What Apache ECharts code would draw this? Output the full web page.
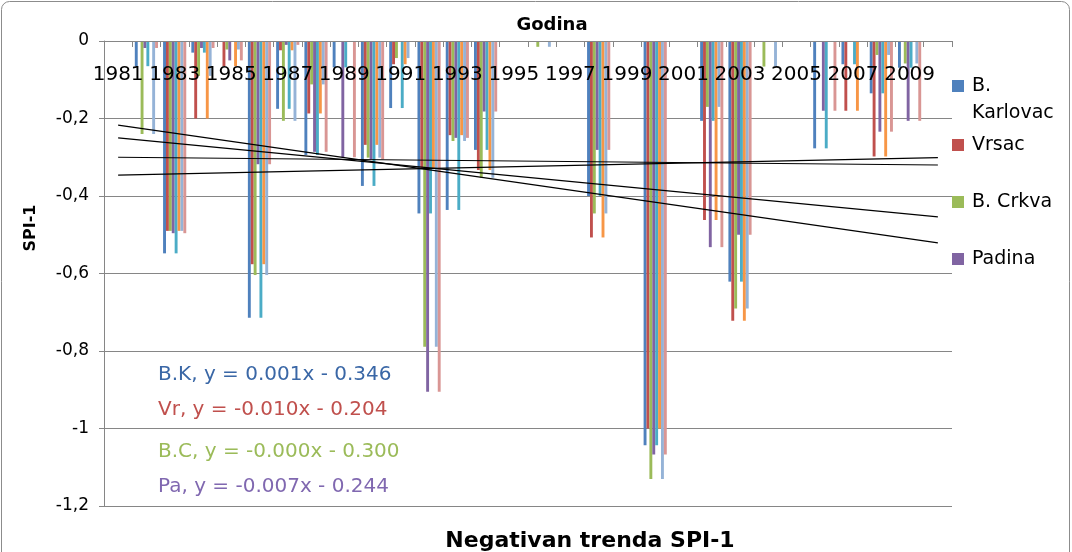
<!DOCTYPE html>
<html lang="sr">
<head>
    <meta charset="UTF-8">
    <title>Negativan trenda SPI-1</title>
    <script type="text/javascript" src="https://cdn.jsdelivr.net/npm/echarts@6/dist/echarts.min.js"></script>
    <style>
        html, body { margin: 0; padding: 0; background: #fff; }
        #chart { width: 1072px; height: 552px; }
    </style>
</head>
<body>
    <div id="chart"></div>
    <script>
        // godine (kategorije)
        var years = ['1981','1982','1983','1984','1985','1986','1987','1988','1989','1990',
                     '1991','1992','1993','1994','1995','1996','1997','1998','1999','2000',
                     '2001','2002','2003','2004','2005','2006','2007','2008','2009','2010'];
        // SPI-1 vrijednosti po stanici (samo negativne)
        var bKarlovac = [0,-0.065,-0.548,-0.03,0,-0.714,-0.175,-0.294,-0.068,-0.374,
                         -0.173,-0.445,-0.436,-0.281,0,0,0,-0.40,0,-1.043,
                         0,-0.206,-0.621,0,0,-0.277,-0.06,-0.135,-0.069,0];
        var vrsac     = [0,0,-0.49,-0.2,-0.065,-0.576,-0.024,-0.187,0,-0.268,
                         -0.06,-0.33,-0.243,-0.333,0,0,0,-0.507,0,-1.0,
                         0,-0.462,-0.722,0,0,0,-0.18,-0.298,0,0];
        var bCrkva    = [0,-0.24,-0.49,-0.09,-0.022,-0.604,-0.206,-0.112,0,-0.301,
                         -0.044,-0.789,-0.258,-0.353,0,-0.015,0,-0.445,0,-1.13,
                         0,-0.17,-0.69,-0.066,0,0,0,-0.036,-0.058,0];
        var padina    = [0,-0.018,-0.496,-0.018,-0.05,-0.318,-0.01,-0.286,-0.30,-0.305,
                         0,-0.905,-0.25,-0.182,0,0,0,-0.281,0,-1.067,
                         0,-0.532,-0.50,0,0,-0.18,0,-0.234,-0.206,0];
        // linije trenda: vrijednost na pocetku (1981) i kraju (2010)
        var trendStart = [-0.346, -0.217, -0.300, -0.250];
        var trendEnd   = [-0.301, -0.521, -0.320, -0.454];
        var equations = ['B.K, y = 0.001x - 0.346', 'Vr, y = -0.010x - 0.204',
                         'B.C, y = -0.000x - 0.300', 'Pa, y = -0.007x - 0.244'];

        var names = ['B. Karlovac', 'Vrsac', 'B. Crkva', 'Padina'];
        var colors = ['#4F81BD', '#C0504D', '#9BBB59', '#8064A2', '#4BACC6', '#F79646', '#95B3D7', '#D99694'];
        var eqColors = ['#3A67A6', '#C0504D', '#9BBB59', '#8068B0'];
        var font = 'DejaVu Sans';
        var gray = '#868686';

        var stations = [bKarlovac, vrsac, bCrkva, padina];
        var series = [];
        // 8 serija stubova (druga cetvorka ponavlja prvu)
        for (var k = 0; k < 8; k++) {
            series.push({
                name: k < 4 ? names[k] : names[k - 4] + ' (2)',
                type: 'bar',
                data: stations[k % 4],
                itemStyle: { color: colors[k] },
                barGap: '0%',
                barCategoryGap: '18%',
                silent: true
            });
        }
        for (var t = 0; t < 4; t++) {
            series.push({
                name: 'trend ' + names[t],
                type: 'line',
                data: [[years[0], trendStart[t]], [years[years.length - 1], trendEnd[t]]],
                symbol: 'none',
                lineStyle: { color: '#000', width: 1.2 },
                z: 5,
                silent: true
            });
        }

        // legenda: B. Karlovac se u originalu lomi u dva reda
        var legendTops = [74, 133, 190, 247];
        var legends = [];
        for (var i = 0; i < 4; i++) {
            legends.push({
                left: 952,
                top: legendTops[i],
                padding: 0,
                selectedMode: false,
                data: [names[i]],
                icon: 'rect',
                itemWidth: 12,
                itemHeight: 12,
                formatter: i === 0 ? 'B.' : '{name}',
                textStyle: {
                    fontFamily: font, fontSize: 19, color: '#000',
                    lineHeight: 24, padding: [0, 0, 0, 3]
                }
            });
        }

        var graphics = [
            { type: 'rect', silent: true, z: -10,
              shape: { x: 1.5, y: 1.5, width: 1068, height: 580, r: 8 },
              style: { fill: 'none', stroke: '#8c8c8c', lineWidth: 1 } },
            { type: 'text', x: 972, y: 113,
              style: { text: 'Karlovac', font: '19px "DejaVu Sans"', fill: '#000', textAlign: 'left', textVerticalAlign: 'middle' } },
            { type: 'text', x: 552, y: 25,
              style: { text: 'Godina', font: 'bold 18px "DejaVu Sans"', fill: '#000', textAlign: 'center', textVerticalAlign: 'middle' } },
            { type: 'text', x: 590, y: 541,
              style: { text: 'Negativan trenda SPI-1', font: 'bold 22px "DejaVu Sans"', fill: '#000', textAlign: 'center', textVerticalAlign: 'middle' } },
            { type: 'text', x: 31, y: 228, rotation: Math.PI / 2,
              style: { text: 'SPI-1', font: 'bold 16px "DejaVu Sans"', fill: '#000', textAlign: 'center', textVerticalAlign: 'middle' } }
        ];
        var eqY = [375, 410, 452, 487];
        for (var e = 0; e < 4; e++) {
            graphics.push({ type: 'text', x: 158, y: eqY[e],
                style: { text: equations[e], font: '20px "DejaVu Sans"', fill: eqColors[e], textAlign: 'left', textVerticalAlign: 'middle' } });
        }

        var chart = echarts.init(document.getElementById('chart'));
        chart.setOption({
            animation: false,
            backgroundColor: '#fff',
            grid: { left: 104, top: 41, width: 848, height: 465 },
            legend: legends,
            xAxis: {
                type: 'category',
                data: years,
                position: 'top',
                z: 10,
                axisLine: { show: true, lineStyle: { color: gray } },
                axisTick: { show: true, inside: true, length: 6, interval: 0, lineStyle: { color: gray } },
                axisLabel: { inside: true, interval: 1, margin: 24, fontFamily: font, fontSize: 20, color: '#000' },
                splitLine: { show: false }
            },
            yAxis: {
                type: 'value',
                min: -1.2,
                max: 0,
                interval: 0.2,
                axisLine: { show: true, lineStyle: { color: gray } },
                axisTick: { show: true, length: 5, lineStyle: { color: gray } },
                splitLine: { show: true, lineStyle: { color: gray } },
                axisLabel: {
                    margin: 15, fontFamily: font, fontSize: 17, color: '#000',
                    formatter: function (v) { return String(Number(v.toFixed(1))).replace('.', ','); }
                }
            },
            graphic: graphics,
            series: series
        });
    </script>
</body>
</html>
